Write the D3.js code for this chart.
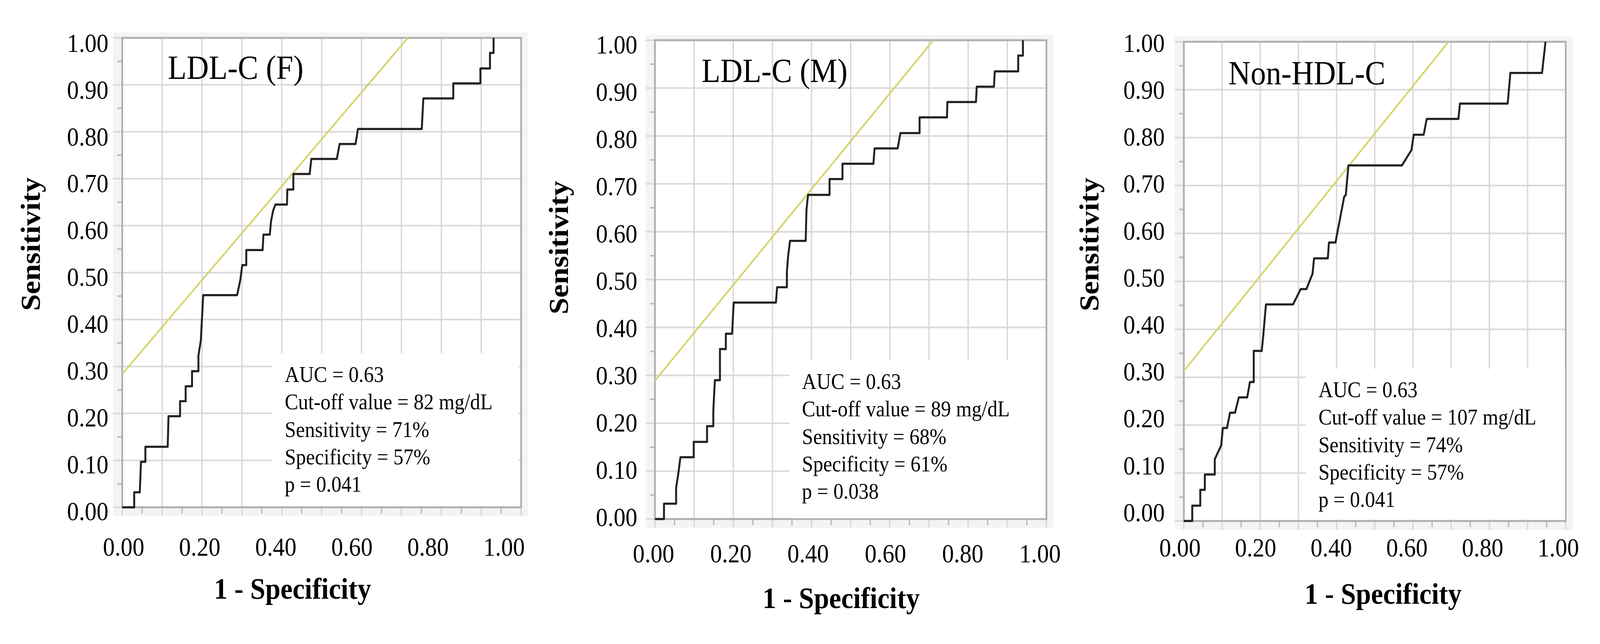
<!DOCTYPE html>
<html lang="en">
<head>
<meta charset="utf-8">
<title>ROC curves</title>
<script src="https://d3js.org/d3.v7.min.js"></script>
<style>
    html, body { margin: 0; padding: 0; width: 100%; height: 100%; overflow: hidden; background: #fff; }
    svg { display: block; }
    svg text { font-family: "Liberation Serif", "Times New Roman", serif; fill: #000; }
</style>
</head>
<body>
<script>
// tick values and labels
var gridVals = [0, 0.1, 0.2, 0.3, 0.4, 0.5, 0.6, 0.7, 0.8, 0.9, 1.0];
var minorVals = [0.05, 0.15, 0.25, 0.35, 0.45, 0.55, 0.65, 0.75, 0.85, 0.95];
var xLabelVals = [0, 0.2, 0.4, 0.6, 0.8, 1.0];
var yLabelVals = [0, 0.1, 0.2, 0.3, 0.4, 0.5, 0.6, 0.7, 0.8, 0.9, 1.0];

var titles = ["LDL-C (F)", "LDL-C (M)", "Non-HDL-C"];

// ROC curve vertices: 1 - specificity, sensitivity
var fprF = [0, 0.030, 0.030, 0.044, 0.047, 0.058, 0.058, 0.114, 0.116, 0.145, 0.145, 0.159, 0.159, 0.175, 0.175, 0.191, 0.191, 0.197, 0.203,
    0.288, 0.296, 0.301, 0.311, 0.311, 0.352, 0.354, 0.370, 0.373, 0.378, 0.384, 0.413, 0.414, 0.429, 0.429, 0.470, 0.474, 0.538, 0.545,
    0.585, 0.591, 0.751, 0.755, 0.830, 0.830, 0.898, 0.898, 0.922, 0.922, 0.931, 0.931];
var sensF = [0, 0, 0.032, 0.032, 0.097, 0.097, 0.129, 0.129, 0.194, 0.194, 0.226, 0.226, 0.258, 0.258, 0.290, 0.290, 0.323, 0.355, 0.452,
    0.452, 0.484, 0.516, 0.516, 0.548, 0.548, 0.581, 0.581, 0.609, 0.631, 0.645, 0.645, 0.677, 0.677, 0.710, 0.710, 0.742, 0.742, 0.774,
    0.774, 0.806, 0.806, 0.871, 0.871, 0.903, 0.903, 0.935, 0.935, 0.968, 0.968, 1.0];

var fprM = [0, 0.023, 0.023, 0.054, 0.054, 0.060, 0.065, 0.099, 0.099, 0.133, 0.133, 0.149, 0.149, 0.153, 0.166, 0.166, 0.181, 0.181, 0.197,
    0.199, 0.201, 0.309, 0.312, 0.337, 0.337, 0.340, 0.345, 0.385, 0.387, 0.391, 0.446, 0.446, 0.479, 0.479, 0.558, 0.561, 0.620, 0.627,
    0.676, 0.676, 0.746, 0.747, 0.820, 0.822, 0.866, 0.868, 0.928, 0.928, 0.940, 0.940];
var sensM = [0, 0, 0.032, 0.032, 0.065, 0.097, 0.129, 0.129, 0.161, 0.161, 0.194, 0.194, 0.226, 0.290, 0.290, 0.355, 0.355, 0.387, 0.387,
    0.419, 0.452, 0.452, 0.484, 0.484, 0.516, 0.548, 0.581, 0.581, 0.645, 0.677, 0.677, 0.710, 0.710, 0.742, 0.742, 0.774, 0.774, 0.806,
    0.806, 0.839, 0.839, 0.871, 0.871, 0.903, 0.903, 0.935, 0.935, 0.968, 0.968, 1.0];

var fprN = [0, 0.022, 0.022, 0.043, 0.043, 0.055, 0.055, 0.081, 0.081, 0.098, 0.102, 0.113, 0.121, 0.134, 0.144, 0.166, 0.173, 0.183, 0.183,
    0.204, 0.208, 0.215, 0.286, 0.306, 0.321, 0.337, 0.341, 0.377, 0.380, 0.397, 0.420, 0.424, 0.431, 0.571, 0.596, 0.602, 0.628, 0.636,
    0.719, 0.723, 0.848, 0.855, 0.938, 0.947];
var sensN = [0, 0, 0.032, 0.032, 0.065, 0.065, 0.097, 0.097, 0.129, 0.158, 0.194, 0.194, 0.226, 0.226, 0.258, 0.258, 0.290, 0.290, 0.355,
    0.355, 0.387, 0.452, 0.452, 0.484, 0.484, 0.516, 0.548, 0.548, 0.581, 0.581, 0.677, 0.680, 0.742, 0.742, 0.774, 0.806, 0.806, 0.839,
    0.839, 0.871, 0.871, 0.935, 0.935, 1.0];

// reference line: sensitivity at x = 0, and x where it reaches 1
var refStart = [0.284, 0.289, 0.313];
var refEnd = [0.716, 0.711, 0.693];

var statsF = ["AUC = 0.63", "Cut-off value = 82 mg/dL", "Sensitivity = 71%", "Specificity = 57%", "p = 0.041"];
var statsM = ["AUC = 0.63", "Cut-off value = 89 mg/dL", "Sensitivity = 68%", "Specificity = 61%", "p = 0.038"];
var statsN = ["AUC = 0.63", "Cut-off value = 107 mg/dL", "Sensitivity = 74%", "Specificity = 57%", "p = 0.041"];

var curves = [[fprF, sensF], [fprM, sensM], [fprN, sensN]];
var stats = [statsF, statsM, statsN];

// where each panel sits on the page
var layout = [
    { x0: 346, x1: 1475, top: 97, bottom: 1299, yLab: [1309, 110], yLabX: 307, xLab: [350, 1427], xLabY: 1423,
      xTitle: [828, 1533], yTitle: [113, 625], title: [475, 202], note: [806, 978], box: [770, 904, 1467, 1296] },
    { x0: 1854, x1: 2962, top: 103, bottom: 1329, yLab: [1324, 114], yLabX: 1804, xLab: [1850, 2944], xLabY: 1440,
      xTitle: [2381, 1557], yTitle: [1608, 634], title: [1986, 210], note: [2270, 996], box: [2235, 923, 2959, 1327] },
    { x0: 3351, x1: 4432, top: 107, bottom: 1334, yLab: [1312, 110], yLabX: 3297, xLab: [3340, 4411], xLabY: 1425,
      xTitle: [3915, 1546], yTitle: [3109, 626], title: [3477, 216], note: [3732, 1017], box: [3696, 944, 4430, 1330] }
];

var W = 4529, H = 1649;
// the figure is stretched over the whole viewport
var svg = d3.select("body").append("svg")
    .attr("viewBox", "0 0 " + W + " " + H)
    .attr("preserveAspectRatio", "none")
    .style("width", "100vw")
    .style("height", "100vh");

var fmt = d3.format(".2f");

layout.forEach(function (L, i) {
    var x = d3.scaleLinear().domain([0, 1]).range([L.x0, L.x1]);
    var y = d3.scaleLinear().domain([0, 1]).range([L.bottom, L.top]);
    // tick labels sit slightly off the ticks in the original, so they get their own scales
    var xl = d3.scaleLinear().domain([0, 1]).range(L.xLab);
    var yl = d3.scaleLinear().domain([0, 1]).range(L.yLab);

    var g = svg.append("g");

    // light grey frame area
    g.append("rect")
        .attr("x", L.x0 - 26).attr("y", L.top - 14)
        .attr("width", L.x1 - L.x0 + 46).attr("height", L.bottom - L.top + 37)
        .attr("fill", "#f4f4f4");
    g.append("rect")
        .attr("x", L.x0).attr("y", L.top)
        .attr("width", L.x1 - L.x0).attr("height", L.bottom - L.top)
        .attr("fill", "#fff");

    // grid lines, extended into the grey margin as major ticks
    g.selectAll(".vg").data(gridVals).enter().append("line")
        .attr("x1", function (d) { return x(d); }).attr("x2", function (d) { return x(d); })
        .attr("y1", L.top).attr("y2", L.bottom + 22)
        .attr("stroke", "#d9d9d9").attr("stroke-width", 4);
    g.selectAll(".hg").data(gridVals).enter().append("line")
        .attr("y1", function (d) { return y(d); }).attr("y2", function (d) { return y(d); })
        .attr("x1", L.x0 - 26).attr("x2", L.x1)
        .attr("stroke", "#d9d9d9").attr("stroke-width", 4);

    // minor ticks
    g.selectAll(".mx").data(minorVals).enter().append("line")
        .attr("x1", function (d) { return x(d); }).attr("x2", function (d) { return x(d); })
        .attr("y1", L.bottom).attr("y2", L.bottom + 16)
        .attr("stroke", "#bdbdbd").attr("stroke-width", 4);
    g.selectAll(".my").data(minorVals).enter().append("line")
        .attr("y1", function (d) { return y(d); }).attr("y2", function (d) { return y(d); })
        .attr("x1", L.x0 - 14).attr("x2", L.x0)
        .attr("stroke", "#bdbdbd").attr("stroke-width", 4);

    // frame
    g.append("rect")
        .attr("x", L.x0).attr("y", L.top)
        .attr("width", L.x1 - L.x0).attr("height", L.bottom - L.top)
        .attr("fill", "none").attr("stroke", "#b0b0b0").attr("stroke-width", 5);

    // white text box pasted over the lower right corner
    g.append("rect")
        .attr("x", L.box[0]).attr("y", L.box[1])
        .attr("width", L.box[2] - L.box[0]).attr("height", L.box[3] - L.box[1])
        .attr("fill", "#fff");

    // reference line
    g.append("line")
        .attr("x1", x(0)).attr("y1", y(refStart[i]))
        .attr("x2", x(refEnd[i])).attr("y2", y(1))
        .attr("stroke", "#d6d36a").attr("stroke-width", 4.5);

    // ROC curve
    var pts = d3.zip(curves[i][0], curves[i][1]);
    var line = d3.line()
        .x(function (d) { return x(d[0]); })
        .y(function (d) { return y(d[1]); });
    g.append("path")
        .attr("d", line(pts))
        .attr("fill", "none")
        .attr("stroke", "#222")
        .attr("stroke-width", 5.5)
        .attr("stroke-linejoin", "round");

    // tick labels
    g.selectAll(".xl").data(xLabelVals).enter().append("text")
        .attr("x", function (d) { return xl(d); })
        .attr("y", L.xLabY)
        .attr("text-anchor", "middle")
        .style("font-size", "67px")
        .text(function (d) { return fmt(d); });
    g.selectAll(".yl").data(yLabelVals).enter().append("text")
        .attr("x", L.yLabX)
        .attr("y", function (d) { return yl(d); })
        .attr("dy", "0.34em")
        .attr("text-anchor", "end")
        .style("font-size", "67px")
        .text(function (d) { return fmt(d); });

    // axis titles
    g.append("text")
        .attr("x", L.xTitle[0]).attr("y", L.xTitle[1])
        .attr("text-anchor", "middle")
        .style("font-size", "77px").style("font-weight", "bold")
        .text("1 - Specificity");
    g.append("text")
        .attr("transform", "translate(" + L.yTitle[0] + "," + L.yTitle[1] + ") rotate(-90)")
        .attr("text-anchor", "middle")
        .style("font-size", "77px").style("font-weight", "bold")
        .text("Sensitivity");

    // panel title
    g.append("text")
        .attr("x", L.title[0]).attr("y", L.title[1])
        .style("font-size", "87px")
        .text(titles[i]);

    // statistics
    g.selectAll(".st").data(stats[i]).enter().append("text")
        .attr("x", L.note[0])
        .attr("y", function (d, k) { return L.note[1] + k * 70.3; })
        .style("font-size", "57px")
        .text(function (d) { return d; });
});
</script>
</body>
</html>
